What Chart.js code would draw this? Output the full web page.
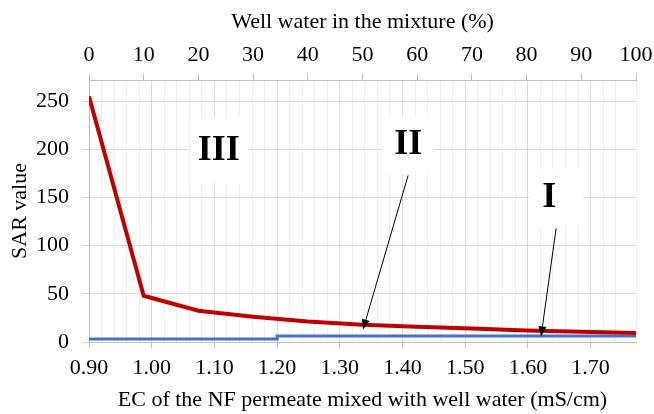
<!DOCTYPE html>
<html>
<head>
<meta charset="utf-8">
<script src="https://cdn.jsdelivr.net/npm/chart.js@4.4.1/dist/chart.umd.min.js"></script>
<style>
  html, body { margin: 0; padding: 0; background: #fff; }
  #wrap { width: 654px; height: 414px; }
</style>
</head>
<body>
<div id="wrap"><canvas id="sarChart"></canvas></div>
<script>
// SAR of the NF permeate / well water mixture
const wellPercent = [0, 10, 20, 30, 40, 50, 60, 70, 80, 90, 100];
const sarMixture = [255, 48, 32.5, 26.3, 21.4, 18, 15.9, 14.1, 12, 10.7, 9.3];

const limitEC = [0.90, 1.20, 1.20, 1.78];
const limitSAR = [3, 3, 6.2, 6.2];

const ecTicks = [0.90, 1.00, 1.10, 1.20, 1.30, 1.40, 1.50, 1.60, 1.70];
const sarTicks = [0, 50, 100, 150, 200, 250];

const EC_MAX = 1.7724;
const SAR_MAX = 272;

// zone labels with arrows (data units; box sizes in px)
const zoneNotes = [
  { text: 'III', x: 1.107, y: 199, w: 58, h: 66, dx: 0 },
  { text: 'II', x: 1.409, y: 204.5, w: 52, h: 58, dx: 0, arrow: { x0: 1.409, y0: 173, x1: 1.337, y1: 13 } },
  { text: 'I', x: 1.634, y: 149.5, w: 54, h: 58, dx: 7, arrow: { x0: 1.645, y0: 118, x1: 1.621, y1: 5.8 } }
];

const serif = 'Liberation Serif, Times New Roman, serif';
const isMajorEC = v => ecTicks.some(t => Math.abs(t - v) < 1e-6);

const notesPlugin = {
  id: 'zoneNotes',
  afterDatasetsDraw(chart) {
    const ctx = chart.ctx;
    const xs = chart.scales.x, ys = chart.scales.y;
    ctx.save();
    zoneNotes.forEach(n => {
      const px = xs.getPixelForValue(n.x);
      const py = ys.getPixelForValue(n.y);
      ctx.fillStyle = '#fff';
      ctx.fillRect(px + n.dx - n.w / 2, py - n.h / 2, n.w, n.h);
      ctx.fillStyle = '#000';
      ctx.font = 'bold 36px ' + serif;
      ctx.textAlign = 'center';
      ctx.textBaseline = 'middle';
      ctx.fillText(n.text, px, py);
      if (n.arrow) {
        const ax0 = xs.getPixelForValue(n.arrow.x0), ay0 = ys.getPixelForValue(n.arrow.y0);
        const ax1 = xs.getPixelForValue(n.arrow.x1), ay1 = ys.getPixelForValue(n.arrow.y1);
        const ang = Math.atan2(ay1 - ay0, ax1 - ax0);
        const len = 10, half = 4;
        const bx = ax1 - len * Math.cos(ang), by = ay1 - len * Math.sin(ang);
        ctx.strokeStyle = '#000';
        ctx.lineWidth = 1;
        ctx.beginPath();
        ctx.moveTo(ax0, ay0);
        ctx.lineTo(bx, by);
        ctx.stroke();
        ctx.beginPath();
        ctx.moveTo(ax1, ay1);
        ctx.lineTo(bx + half * Math.sin(ang), by - half * Math.cos(ang));
        ctx.lineTo(bx - half * Math.sin(ang), by + half * Math.cos(ang));
        ctx.closePath();
        ctx.fill();
      }
    });
    ctx.restore();
  }
};

const font22 = { family: serif, size: 22, lineHeight: 1.2 };

new Chart(document.getElementById('sarChart'), {
  type: 'line',
  data: {
    datasets: [
      {
        label: 'SAR',
        data: wellPercent.map((p, i) => ({ x: p, y: sarMixture[i] })),
        xAxisID: 'x2',
        borderColor: '#c00000',
        borderWidth: 4,
        pointRadius: 0,
        tension: 0
      },
      {
        label: 'Limit',
        data: limitEC.map((e, i) => ({ x: e, y: limitSAR[i] })),
        xAxisID: 'x',
        borderColor: '#4472c4',
        borderWidth: 3,
        pointRadius: 0,
        tension: 0
      }
    ]
  },
  options: {
    responsive: true,
    maintainAspectRatio: false,
    animation: false,
    layout: { padding: { left: 0, right: 18, top: 0, bottom: 0 } },
    plugins: { legend: { display: false }, tooltip: { enabled: false } },
    scales: {
      x: {
        type: 'linear',
        position: 'bottom',
        min: 0.9,
        max: EC_MAX,
        afterFit: s => { s.height = 72; s.paddingRight = 0; },
        ticks: {
          stepSize: 0.02,
          autoSkip: false,
          maxRotation: 0,
          padding: 7,
          color: '#000',
          font: font22,
          callback: v => isMajorEC(v) ? v.toFixed(2) : ''
        },
        grid: {
          color: c => isMajorEC(c.tick.value) ? '#d9d9d9' : '#efefef',
          tickColor: c => isMajorEC(c.tick.value) ? '#bfbfbf' : 'rgba(0,0,0,0)',
          tickLength: 6
        },
        border: { color: '#bfbfbf' },
        title: {
          display: true,
          text: 'EC of the NF permeate mixed with well water (mS/cm)',
          color: '#000',
          font: font22,
          padding: { top: 0, bottom: 1 }
        }
      },
      x2: {
        type: 'linear',
        position: 'top',
        min: 0,
        max: 100,
        afterFit: s => { s.height = 80; s.paddingRight = 0; },
        ticks: { stepSize: 10, maxRotation: 0, padding: 6, color: '#000', font: font22 },
        grid: { drawOnChartArea: false, color: '#bfbfbf', tickLength: 6 },
        border: { color: '#bfbfbf' },
        title: {
          display: true,
          text: 'Well water in the mixture (%)',
          color: '#000',
          font: font22,
          padding: { top: 9, bottom: 0 }
        }
      },
      y: {
        min: 0,
        max: SAR_MAX,
        afterFit: s => { s.width = 89; },
        afterBuildTicks: s => { s.ticks = sarTicks.map(v => ({ value: v })); },
        ticks: {
          padding: 13,
          color: '#000',
          font: font22
        },
        grid: {
          color: '#d9d9d9',
          tickLength: 7
        },
        border: { color: '#bfbfbf' },
        title: {
          display: true,
          text: 'SAR value',
          color: '#000',
          font: font22,
          padding: { top: 7, bottom: 0 }
        }
      }
    }
  },
  plugins: [notesPlugin]
});
</script>
</body>
</html>
